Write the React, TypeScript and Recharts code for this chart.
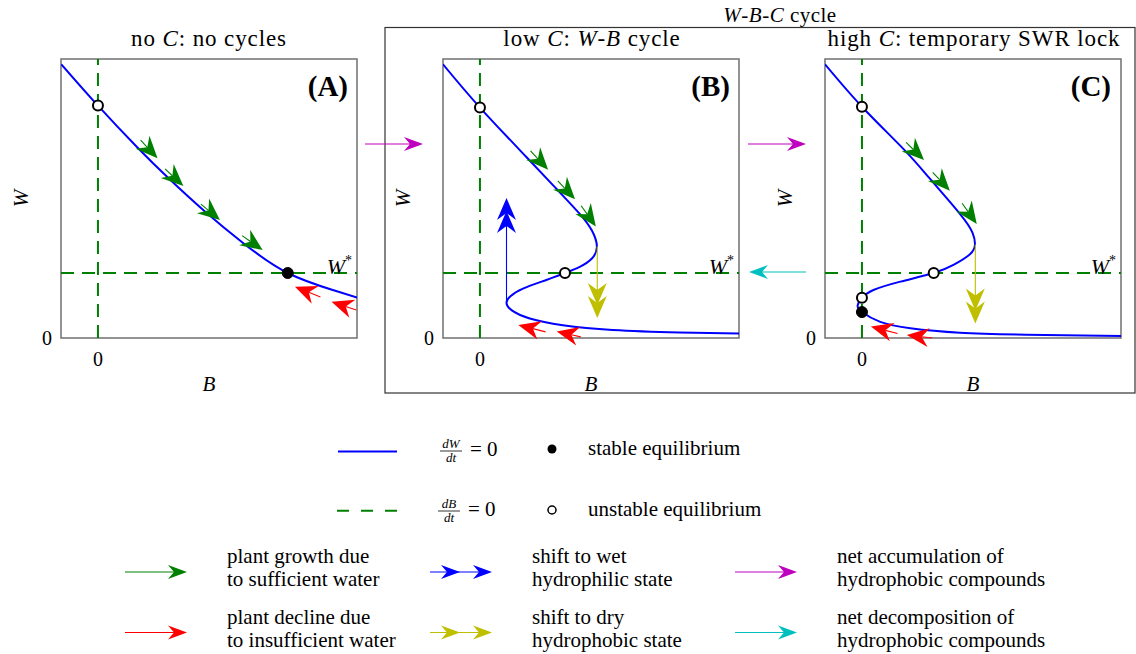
import React from 'react';
import { LineChart, Line, XAxis, YAxis, ReferenceLine, ReferenceDot, ReferenceArea, Label } from 'recharts';

const FONT = '"Liberation Serif", "DejaVu Serif", serif';
const GREEN = '#008000';
const RED = '#ff0000';
const BLUE = '#0000ff';
const YELLOW = '#bfbf00';
const MAGENTA = '#bf00bf';
const CYAN = '#00bfbf';

// axes (arbitrary units, as in the sketch)
const B_DOMAIN = [-1.03, 7.22];
const W_DOMAIN = [0, 10];
const B_TICKS = [0];
const W_TICKS = [0];
const W_STAR = 2.33;

// dW/dt = 0 isoclines
const curveA = [
  { b: -1.02, w: 9.81 }, { b: 0, w: 8.33 }, { b: 1.1, w: 6.83 }, { b: 1.94, w: 5.76 },
  { b: 2.95, w: 4.57 }, { b: 4.07, w: 3.38 }, { b: 5.29, w: 2.33 }, { b: 6.57, w: 1.71 },
  { b: 7.22, w: 1.45 },
];
const curveB = [
  { b: -1.03, w: 9.81 }, { b: 0, w: 8.26 }, { b: 1.3, w: 6.48 }, { b: 2.13, w: 5.35 },
  { b: 2.78, w: 4.45 }, { b: 3.12, w: 3.85 }, { b: 3.26, w: 3.28 }, { b: 3.12, w: 2.85 },
  { b: 2.78, w: 2.55 }, { b: 2.37, w: 2.33 }, { b: 1.85, w: 2.08 }, { b: 1.2, w: 1.77 },
  { b: 0.85, w: 1.5 }, { b: 0.74, w: 1.27 }, { b: 0.88, w: 1.0 }, { b: 1.39, w: 0.7 },
  { b: 2.31, w: 0.46 }, { b: 3.7, w: 0.29 }, { b: 5.56, w: 0.2 }, { b: 7.22, w: 0.16 },
];
const curveC = [
  { b: -1.03, w: 9.81 }, { b: 0, w: 8.29 }, { b: 1.16, w: 6.77 }, { b: 1.9, w: 5.7 },
  { b: 2.73, w: 4.45 }, { b: 3.08, w: 3.78 }, { b: 3.15, w: 3.35 }, { b: 3.01, w: 3.0 },
  { b: 2.55, w: 2.62 }, { b: 2.0, w: 2.33 }, { b: 1.07, w: 2.02 }, { b: 0.32, w: 1.72 },
  { b: 0, w: 1.44 }, { b: -0.12, w: 1.17 }, { b: 0, w: 0.93 }, { b: 0.51, w: 0.58 },
  { b: 1.35, w: 0.35 }, { b: 2.73, w: 0.19 }, { b: 4.58, w: 0.12 }, { b: 7.22, w: 0.07 },
];

// flow arrows: tail (b1,w1) -> tip (b2,w2)
const growthA = [
  { b1: 1.19, w1: 7.09, b2: 1.66, w2: 6.44 },
  { b1: 1.87, w1: 6.06, b2: 2.38, w2: 5.45 },
  { b1: 2.87, w1: 4.80, b2: 3.4, w2: 4.23 },
  { b1: 4.02, w1: 3.67, b2: 4.59, w2: 3.15 },
];
const declineA = [
  { b1: 6.2, w1: 1.47, b2: 5.49, w2: 1.84 },
  { b1: 7.2, w1: 1.0, b2: 6.51, w2: 1.3 },
];
const growthB = [
  { b1: 1.41, w1: 6.71, b2: 1.9, w2: 6.03 },
  { b1: 2.17, w1: 5.63, b2: 2.65, w2: 4.97 },
  { b1: 2.82, w1: 4.74, b2: 3.23, w2: 4.0 },
];
const declineB = [
  { b1: 1.83, w1: 0.22, b2: 1.07, w2: 0.47 },
  { b1: 2.81, w1: 0.04, b2: 2.14, w2: 0.23 },
];
const growthC = [
  { b1: 1.23, w1: 7.01, b2: 1.73, w2: 6.38 },
  { b1: 1.97, w1: 5.94, b2: 2.45, w2: 5.28 },
  { b1: 2.79, w1: 4.83, b2: 3.2, w2: 4.09 },
];
const declineC = [
  { b1: 0.99, w1: 0.16, b2: 0.25, w2: 0.41 },
  { b1: 1.96, w1: 0.0, b2: 1.25, w2: 0.11 },
];
const wetShiftB = [{ b1: 0.74, w1: 1.27, b2: 0.74, w2: 5.02 }];
const dryShiftB = [{ b1: 3.27, w1: 3.28, b2: 3.27, w2: 0.72 }];
const dryShiftC = [{ b1: 3.16, w1: 3.35, b2: 3.16, w2: 0.52 }];

// equilibria
const stableA = [{ b: 5.29, w: 2.33 }];
const unstableA = [{ b: 0, w: 8.33 }];
const stableB: { b: number; w: number }[] = [];
const unstableB = [{ b: 0, w: 8.26 }, { b: 2.37, w: 2.33 }];
const stableC = [{ b: 0, w: 0.93 }];
const unstableC = [{ b: 0, w: 8.29 }, { b: 2.0, w: 2.33 }, { b: 0, w: 1.44 }];

const legendArrowLabels = [
  ['plant growth due', 'to sufficient water'],
  ['shift to wet', 'hydrophilic state'],
  ['net accumulation of', 'hydrophobic compounds'],
  ['plant decline due', 'to insufficient water'],
  ['shift to dry', 'hydrophobic state'],
  ['net decomposition of', 'hydrophobic compounds'],
];

function headPts(tx: number, ty: number, ux: number, uy: number, L: number, hw: number, notch: number) {
  const px = -uy, py = ux;
  const bx = tx - ux * L, by = ty - uy * L;
  const nx = tx - ux * (L - notch), ny = ty - uy * (L - notch);
  return `${tx},${ty} ${bx + px * hw},${by + py * hw} ${nx},${ny} ${bx - px * hw},${by - py * hw}`;
}

const ArrowSvg = ({ x1, y1, x2, y2, color, heads = 1, gap = 13, L = 19, hw = 7, notch = 6, lw = 1.2 }: any) => {
  const dx = x2 - x1, dy = y2 - y1;
  const len = Math.hypot(dx, dy) || 1;
  const ux = dx / len, uy = dy / len;
  const tips = Array.from({ length: heads }, (_, i) => [x2 - ux * gap * i, y2 - uy * gap * i]);
  const ex = x2 - ux * (L - notch), ey = y2 - uy * (L - notch);
  return (
    <g>
      <line x1={x1} y1={y1} x2={ex} y2={ey} stroke={color} strokeWidth={lw} />
      {tips.map(([tx, ty], i) => (
        <polygon key={i} points={headPts(tx, ty, ux, uy, L, hw, notch)} fill={color} />
      ))}
    </g>
  );
};

const arrowLines = (list: any[], color: string, prefix: string, heads = 1) =>
  list.map((a, i) => (
    <ReferenceLine
      key={`${prefix}-${i}`}
      segment={[{ x: a.b1, y: a.w1 }, { x: a.b2, y: a.w2 }]}
      ifOverflow="visible"
      shape={(p: any) => (
        <ArrowSvg x1={p.x1} y1={p.y1} x2={p.x2} y2={p.y2} color={color} heads={heads} L={22} hw={9.5} notch={7} lw={1.1} />
      )}
    />
  ));

const Panel = ({ left, width, yw, rm, curve, growth, decline, wet, dry, stable, unstable }: any) => (
  <div style={{ position: 'absolute', left, top: 0 }}>
    <LineChart width={width} height={400} margin={{ top: 59, right: rm, bottom: 12, left: 0 }}>
      <XAxis
        type="number"
        dataKey="b"
        domain={B_DOMAIN}
        ticks={B_TICKS}
        allowDataOverflow
        tickLine={false}
        axisLine={false}
        tickSize={0}
        tickMargin={14}
        height={50}
        tick={{ fontSize: 20, fill: '#000', fontFamily: FONT }}
      >
        <Label
          content={(p: any) => (
            <text x={p.viewBox.x + p.viewBox.width / 2} y={p.viewBox.y + 53} textAnchor="middle" fontSize={21} fontStyle="italic" fontFamily={FONT}>
              B
            </text>
          )}
        />
      </XAxis>
      <YAxis
        type="number"
        dataKey="w"
        domain={W_DOMAIN}
        ticks={W_TICKS}
        allowDataOverflow
        tickLine={false}
        axisLine={false}
        tickSize={0}
        tickMargin={9}
        width={yw}
        tick={{ fontSize: 20, fill: '#000', fontFamily: FONT }}
      >
        <Label
          content={(p: any) => {
            const cx = p.viewBox.x + yw - 40;
            const cy = p.viewBox.y + p.viewBox.height / 2;
            return (
              <text x={cx} y={cy} transform={`rotate(-90 ${cx} ${cy})`} textAnchor="middle" dominantBaseline="central" fontSize={21} fontStyle="italic" fontFamily={FONT}>
                W
              </text>
            );
          }}
        />
      </YAxis>
      <ReferenceLine x={0} stroke={GREEN} strokeWidth={2} strokeDasharray="13 8" />
      <ReferenceLine y={W_STAR} stroke={GREEN} strokeWidth={2} strokeDasharray="13 8">
        <Label
          content={(p: any) => (
            <text x={p.viewBox.x + p.viewBox.width - 5} y={p.viewBox.y + 1} textAnchor="end" fontFamily={FONT} fontSize={22}>
              <tspan fontStyle="italic">W</tspan>
              <tspan fontSize={14} dy={-9}>*</tspan>
            </text>
          )}
        />
      </ReferenceLine>
      <Line data={curve} dataKey="w" type="natural" stroke={BLUE} strokeWidth={2} dot={false} activeDot={false} isAnimationActive={false} />
      {arrowLines(growth, GREEN, 'g')}
      {arrowLines(decline, RED, 'r')}
      {arrowLines(wet, BLUE, 'wet', 2)}
      {arrowLines(dry, YELLOW, 'dry', 2)}
      {stable.map((s: any, i: number) => (
        <ReferenceDot key={`s${i}`} x={s.b} y={s.w} r={5.5} fill="#000" stroke="#000" strokeWidth={1} ifOverflow="visible" />
      ))}
      {unstable.map((s: any, i: number) => (
        <ReferenceDot key={`u${i}`} x={s.b} y={s.w} r={5} fill="#fff" stroke="#000" strokeWidth={2} ifOverflow="visible" />
      ))}
      <ReferenceArea x1={B_DOMAIN[0]} x2={B_DOMAIN[1]} y1={W_DOMAIN[0]} y2={W_DOMAIN[1]} fill="none" fillOpacity={0} stroke="#707070" strokeWidth={1.5} ifOverflow="visible" />
    </LineChart>
  </div>
);

const Frac = ({ x, y, num }: any) => (
  <g fontFamily={FONT}>
    <text x={x} y={y - 3} textAnchor="middle" fontSize={13}>
      <tspan fontStyle="italic">d{num}</tspan>
    </text>
    <line x1={x - 11} x2={x + 11} y1={y} y2={y} stroke="#000" strokeWidth={0.8} />
    <text x={x} y={y + 11} textAnchor="middle" fontSize={13} fontStyle="italic">
      dt
    </text>
    <text x={x + 19} y={y + 5} fontSize={21}>= 0</text>
  </g>
);

const Overlay = () => {
  const arrowCols = [125, 430, 735];
  const textCols = [227, 532, 837];
  const rowsY = [572, 632.5];
  const colors = [GREEN, BLUE, MAGENTA, RED, YELLOW, CYAN];
  const heads = [1, 2, 1, 1, 2, 1];
  const title = { fontSize: 23, letterSpacing: 0.9 };
  return (
    <svg width={1136} height={654} style={{ position: 'absolute', left: 0, top: 0 }} fontFamily={FONT}>
      <rect x={385} y={27.5} width={750} height={365.5} fill="none" stroke="#333" strokeWidth={1.2} />
      <text x={780} y={22} textAnchor="middle" fontSize={21} letterSpacing={0.5}>
        <tspan fontStyle="italic">W</tspan>-<tspan fontStyle="italic">B</tspan>-<tspan fontStyle="italic">C</tspan> cycle
      </text>
      <text x={209} y={46} textAnchor="middle" {...title}>
        no <tspan fontStyle="italic">C</tspan>: no cycles
      </text>
      <text x={592} y={46} textAnchor="middle" {...title}>
        low <tspan fontStyle="italic">C</tspan>: <tspan fontStyle="italic">W</tspan>-<tspan fontStyle="italic">B</tspan> cycle
      </text>
      <text x={974} y={46} textAnchor="middle" {...title}>
        high <tspan fontStyle="italic">C</tspan>: temporary SWR lock
      </text>
      <text x={348} y={96} textAnchor="end" fontSize={29} fontWeight="bold">(A)</text>
      <text x={730} y={96} textAnchor="end" fontSize={29} fontWeight="bold">(B)</text>
      <text x={1111} y={96} textAnchor="end" fontSize={29} fontWeight="bold">(C)</text>

      <ArrowSvg x1={365} y1={144} x2={423} y2={144} color={MAGENTA} />
      <ArrowSvg x1={748} y1={144} x2={806} y2={144} color={MAGENTA} />
      <ArrowSvg x1={806} y1={272} x2={749} y2={272} color={CYAN} />

      <line x1={338} x2={397} y1={451.5} y2={451.5} stroke={BLUE} strokeWidth={2} />
      <Frac x={451} y={451} num="W" />
      <circle cx={552} cy={449} r={4.5} fill="#000" />
      <text x={588} y={455} fontSize={21}>stable equilibrium</text>
      <line x1={337} x2={397} y1={510.7} y2={510.7} stroke={GREEN} strokeWidth={2} strokeDasharray="12 12" />
      <Frac x={449} y={511} num="B" />
      <circle cx={552} cy={510} r={4} fill="#fff" stroke="#000" strokeWidth={1.5} />
      <text x={588} y={516} fontSize={21}>unstable equilibrium</text>

      {legendArrowLabels.map((lines, i) => {
        const row = Math.floor(i / 3);
        const col = i % 3;
        const y = rowsY[row];
        const x = arrowCols[col];
        return (
          <g key={i}>
            <ArrowSvg x1={x} y1={y} x2={x + 62} y2={y} color={colors[i]} heads={heads[i]} gap={32} />
            <text x={textCols[col]} y={y - 9} fontSize={21}>{lines[0]}</text>
            <text x={textCols[col]} y={y + 14} fontSize={21}>{lines[1]}</text>
          </g>
        );
      })}
    </svg>
  );
};

export default function App() {
  return (
    <div style={{ position: 'absolute', left: 0, top: 0, width: 1136, height: 654, background: '#fff', fontFamily: FONT }}>
      <Overlay />
      <Panel left={0} width={370} yw={61} rm={13} curve={curveA} growth={growthA} decline={declineA} wet={[]} dry={[]} stable={stableA} unstable={unstableA} />
      <Panel left={380} width={370} yw={63} rm={11} curve={curveB} growth={growthB} decline={declineB} wet={wetShiftB} dry={dryShiftB} stable={stableB} unstable={unstableB} />
      <Panel left={760} width={376} yw={65} rm={15} curve={curveC} growth={growthC} decline={declineC} wet={[]} dry={dryShiftC} stable={stableC} unstable={unstableC} />
    </div>
  );
}
